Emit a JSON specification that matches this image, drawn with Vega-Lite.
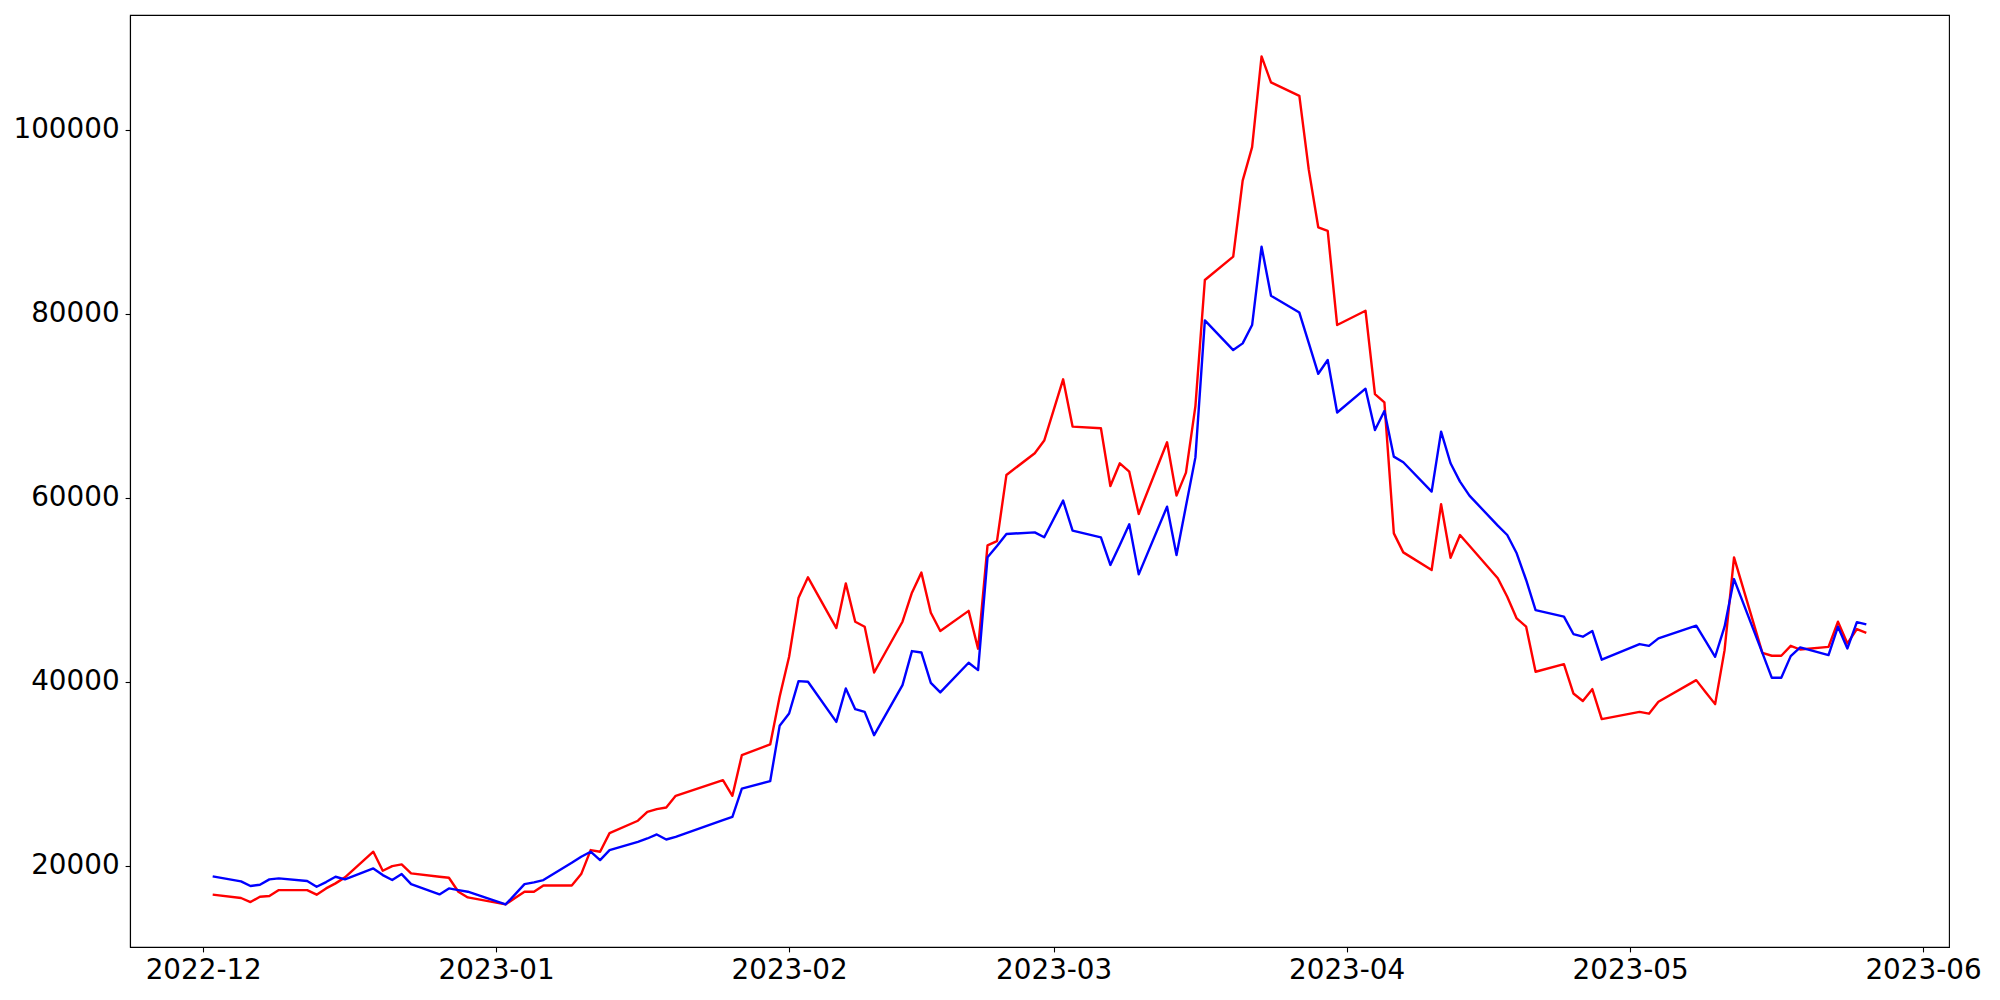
{
  "$schema": "https://vega.github.io/schema/vega-lite/v6.json",
  "autosize": {"type": "none"},
  "padding": {"left": 130, "top": 15, "right": 51, "bottom": 53},
  "width": 1819,
  "height": 932,
  "background": "white",
  "config": {
    "view": {"stroke": "#000000", "strokeWidth": 1.1},
    "axis": {
      "labelFont": "DejaVu Sans",
      "labelFontSize": 27.8,
      "labelColor": "#000000",
      "tickColor": "#000000",
      "domainColor": "#000000",
      "tickSize": 4.9,
      "tickWidth": 1.1,
      "domainWidth": 1.1,
      "grid": false,
      "title": null
    }
  },
  "data": {
    "values": [
      {"date": "2022-12-02", "red": 16850, "blue": 18840},
      {"date": "2022-12-05", "red": 16490, "blue": 18290},
      {"date": "2022-12-06", "red": 16050, "blue": 17790},
      {"date": "2022-12-07", "red": 16630, "blue": 17930},
      {"date": "2022-12-08", "red": 16700, "blue": 18510},
      {"date": "2022-12-09", "red": 17350, "blue": 18620},
      {"date": "2022-12-12", "red": 17350, "blue": 18330},
      {"date": "2022-12-13", "red": 16850, "blue": 17710},
      {"date": "2022-12-14", "red": 17530, "blue": 18220},
      {"date": "2022-12-15", "red": 18080, "blue": 18800},
      {"date": "2022-12-16", "red": 18730, "blue": 18510},
      {"date": "2022-12-19", "red": 21520, "blue": 19700},
      {"date": "2022-12-20", "red": 19450, "blue": 18980},
      {"date": "2022-12-21", "red": 19960, "blue": 18440},
      {"date": "2022-12-22", "red": 20140, "blue": 19090},
      {"date": "2022-12-23", "red": 19160, "blue": 18000},
      {"date": "2022-12-26", "red": 18800, "blue": 16880},
      {"date": "2022-12-27", "red": 18690, "blue": 17530},
      {"date": "2022-12-28", "red": 17170, "blue": 17350},
      {"date": "2022-12-29", "red": 16550, "blue": 17170},
      {"date": "2023-01-02", "red": 15800, "blue": 15790},
      {"date": "2023-01-03", "red": 16490, "blue": 16880},
      {"date": "2023-01-04", "red": 17170, "blue": 18000},
      {"date": "2023-01-05", "red": 17170, "blue": 18190},
      {"date": "2023-01-06", "red": 17850, "blue": 18440},
      {"date": "2023-01-09", "red": 17850, "blue": 20320},
      {"date": "2023-01-10", "red": 19090, "blue": 20980},
      {"date": "2023-01-11", "red": 21700, "blue": 21520},
      {"date": "2023-01-12", "red": 21520, "blue": 20610},
      {"date": "2023-01-13", "red": 23540, "blue": 21700},
      {"date": "2023-01-16", "red": 24890, "blue": 22600},
      {"date": "2023-01-17", "red": 25860, "blue": 22960},
      {"date": "2023-01-18", "red": 26150, "blue": 23400},
      {"date": "2023-01-19", "red": 26330, "blue": 22850},
      {"date": "2023-01-20", "red": 27600, "blue": 23140},
      {"date": "2023-01-25", "red": 29300, "blue": 24950},
      {"date": "2023-01-26", "red": 27600, "blue": 25310},
      {"date": "2023-01-27", "red": 32020, "blue": 28390},
      {"date": "2023-01-30", "red": 33180, "blue": 29190},
      {"date": "2023-01-31", "red": 38370, "blue": 35210},
      {"date": "2023-02-01", "red": 42720, "blue": 36550},
      {"date": "2023-02-02", "red": 49150, "blue": 40070},
      {"date": "2023-02-03", "red": 51360, "blue": 40000},
      {"date": "2023-02-06", "red": 45840, "blue": 35640},
      {"date": "2023-02-07", "red": 50700, "blue": 39270},
      {"date": "2023-02-08", "red": 46530, "blue": 37020},
      {"date": "2023-02-09", "red": 45990, "blue": 36730},
      {"date": "2023-02-10", "red": 41010, "blue": 34190},
      {"date": "2023-02-13", "red": 46530, "blue": 39630},
      {"date": "2023-02-14", "red": 49690, "blue": 43340},
      {"date": "2023-02-15", "red": 51870, "blue": 43190},
      {"date": "2023-02-16", "red": 47510, "blue": 39890},
      {"date": "2023-02-17", "red": 45520, "blue": 38840},
      {"date": "2023-02-20", "red": 47710, "blue": 42070},
      {"date": "2023-02-21", "red": 43600, "blue": 41270},
      {"date": "2023-02-22", "red": 54840, "blue": 53530},
      {"date": "2023-02-23", "red": 55290, "blue": 54770},
      {"date": "2023-02-24", "red": 62490, "blue": 56070},
      {"date": "2023-02-27", "red": 64850, "blue": 56250},
      {"date": "2023-02-28", "red": 66230, "blue": 55710},
      {"date": "2023-03-02", "red": 72890, "blue": 59700},
      {"date": "2023-03-03", "red": 67750, "blue": 56430},
      {"date": "2023-03-06", "red": 67570, "blue": 55710},
      {"date": "2023-03-07", "red": 61290, "blue": 52700},
      {"date": "2023-03-08", "red": 63760, "blue": 54870},
      {"date": "2023-03-09", "red": 62850, "blue": 57120},
      {"date": "2023-03-10", "red": 58250, "blue": 51680},
      {"date": "2023-03-13", "red": 66040, "blue": 59040},
      {"date": "2023-03-14", "red": 60240, "blue": 53780},
      {"date": "2023-03-15", "red": 62740, "blue": 59110},
      {"date": "2023-03-16", "red": 69980, "blue": 64400},
      {"date": "2023-03-17", "red": 83690, "blue": 79300},
      {"date": "2023-03-20", "red": 86230, "blue": 76070},
      {"date": "2023-03-21", "red": 94500, "blue": 76800},
      {"date": "2023-03-22", "red": 98130, "blue": 78790},
      {"date": "2023-03-23", "red": 108000, "blue": 87320},
      {"date": "2023-03-24", "red": 105170, "blue": 81970},
      {"date": "2023-03-27", "red": 103720, "blue": 80150},
      {"date": "2023-03-28", "red": 95660, "blue": 76830},
      {"date": "2023-03-29", "red": 89420, "blue": 73490},
      {"date": "2023-03-30", "red": 89020, "blue": 74990},
      {"date": "2023-03-31", "red": 78790, "blue": 69280},
      {"date": "2023-04-03", "red": 80350, "blue": 71870},
      {"date": "2023-04-04", "red": 71290, "blue": 67380},
      {"date": "2023-04-05", "red": 70380, "blue": 69440},
      {"date": "2023-04-06", "red": 56140, "blue": 64480},
      {"date": "2023-04-07", "red": 54070, "blue": 63870},
      {"date": "2023-04-10", "red": 52150, "blue": 60680},
      {"date": "2023-04-11", "red": 59300, "blue": 67200},
      {"date": "2023-04-12", "red": 53490, "blue": 63760},
      {"date": "2023-04-13", "red": 55960, "blue": 61770},
      {"date": "2023-04-14", "red": 54800, "blue": 60240},
      {"date": "2023-04-17", "red": 51250, "blue": 56980},
      {"date": "2023-04-18", "red": 49250, "blue": 55960},
      {"date": "2023-04-19", "red": 46890, "blue": 53970},
      {"date": "2023-04-20", "red": 45990, "blue": 51070},
      {"date": "2023-04-21", "red": 41090, "blue": 47800},
      {"date": "2023-04-24", "red": 41920, "blue": 47080},
      {"date": "2023-04-25", "red": 38730, "blue": 45190},
      {"date": "2023-04-26", "red": 37910, "blue": 44900},
      {"date": "2023-04-27", "red": 39200, "blue": 45530},
      {"date": "2023-04-28", "red": 35940, "blue": 42400},
      {"date": "2023-05-02", "red": 36730, "blue": 44100},
      {"date": "2023-05-03", "red": 36530, "blue": 43900},
      {"date": "2023-05-04", "red": 37820, "blue": 44720},
      {"date": "2023-05-08", "red": 40180, "blue": 46100},
      {"date": "2023-05-09", "red": 38870, "blue": 44430},
      {"date": "2023-05-10", "red": 37570, "blue": 42720},
      {"date": "2023-05-11", "red": 43440, "blue": 45990},
      {"date": "2023-05-12", "red": 53530, "blue": 51170},
      {"date": "2023-05-15", "red": 43150, "blue": 43150},
      {"date": "2023-05-16", "red": 42830, "blue": 40430},
      {"date": "2023-05-17", "red": 42830, "blue": 40430},
      {"date": "2023-05-18", "red": 43910, "blue": 42790},
      {"date": "2023-05-19", "red": 43510, "blue": 43740},
      {"date": "2023-05-22", "red": 43800, "blue": 42900},
      {"date": "2023-05-23", "red": 46530, "blue": 45990},
      {"date": "2023-05-24", "red": 44170, "blue": 43630},
      {"date": "2023-05-25", "red": 45730, "blue": 46490},
      {"date": "2023-05-26", "red": 45330, "blue": 46240}
    ]
  },
  "encoding": {
    "x": {
      "field": "date",
      "type": "temporal",
      "scale": {
        "type": "utc",
        "domain": [
          {"year": 2022, "month": 11, "date": 23, "hours": 6, "utc": true},
          {"year": 2023, "month": 6, "date": 3, "hours": 18, "utc": true}
        ],
        "nice": false
      },
      "axis": {
        "labelExpr": "utcFormat(datum.value, '%Y-%m')",
        "labelPadding": 5,
        "labelAngle": 0,
        "labelOverlap": false,
        "values": [
          {"year": 2022, "month": 12, "date": 1, "utc": true},
          {"year": 2023, "month": 1, "date": 1, "utc": true},
          {"year": 2023, "month": 2, "date": 1, "utc": true},
          {"year": 2023, "month": 3, "date": 1, "utc": true},
          {"year": 2023, "month": 4, "date": 1, "utc": true},
          {"year": 2023, "month": 5, "date": 1, "utc": true},
          {"year": 2023, "month": 6, "date": 1, "utc": true}
        ]
      }
    }
  },
  "layer": [
    {
      "mark": {"type": "line", "color": "#ff0000", "strokeWidth": 2.4, "strokeJoin": "round", "clip": true},
      "encoding": {
        "y": {
          "field": "red",
          "type": "quantitative",
          "scale": {"domain": [11160, 112505], "nice": false, "zero": false},
          "axis": {"values": [20000, 40000, 60000, 80000, 100000], "format": "d", "labelPadding": 6}
        }
      }
    },
    {
      "mark": {"type": "line", "color": "#0000ff", "strokeWidth": 2.4, "strokeJoin": "round", "clip": true},
      "encoding": {
        "y": {"field": "blue", "type": "quantitative"}
      }
    }
  ],
  "resolve": {"scale": {"y": "shared"}, "axis": {"y": "shared"}}
}
